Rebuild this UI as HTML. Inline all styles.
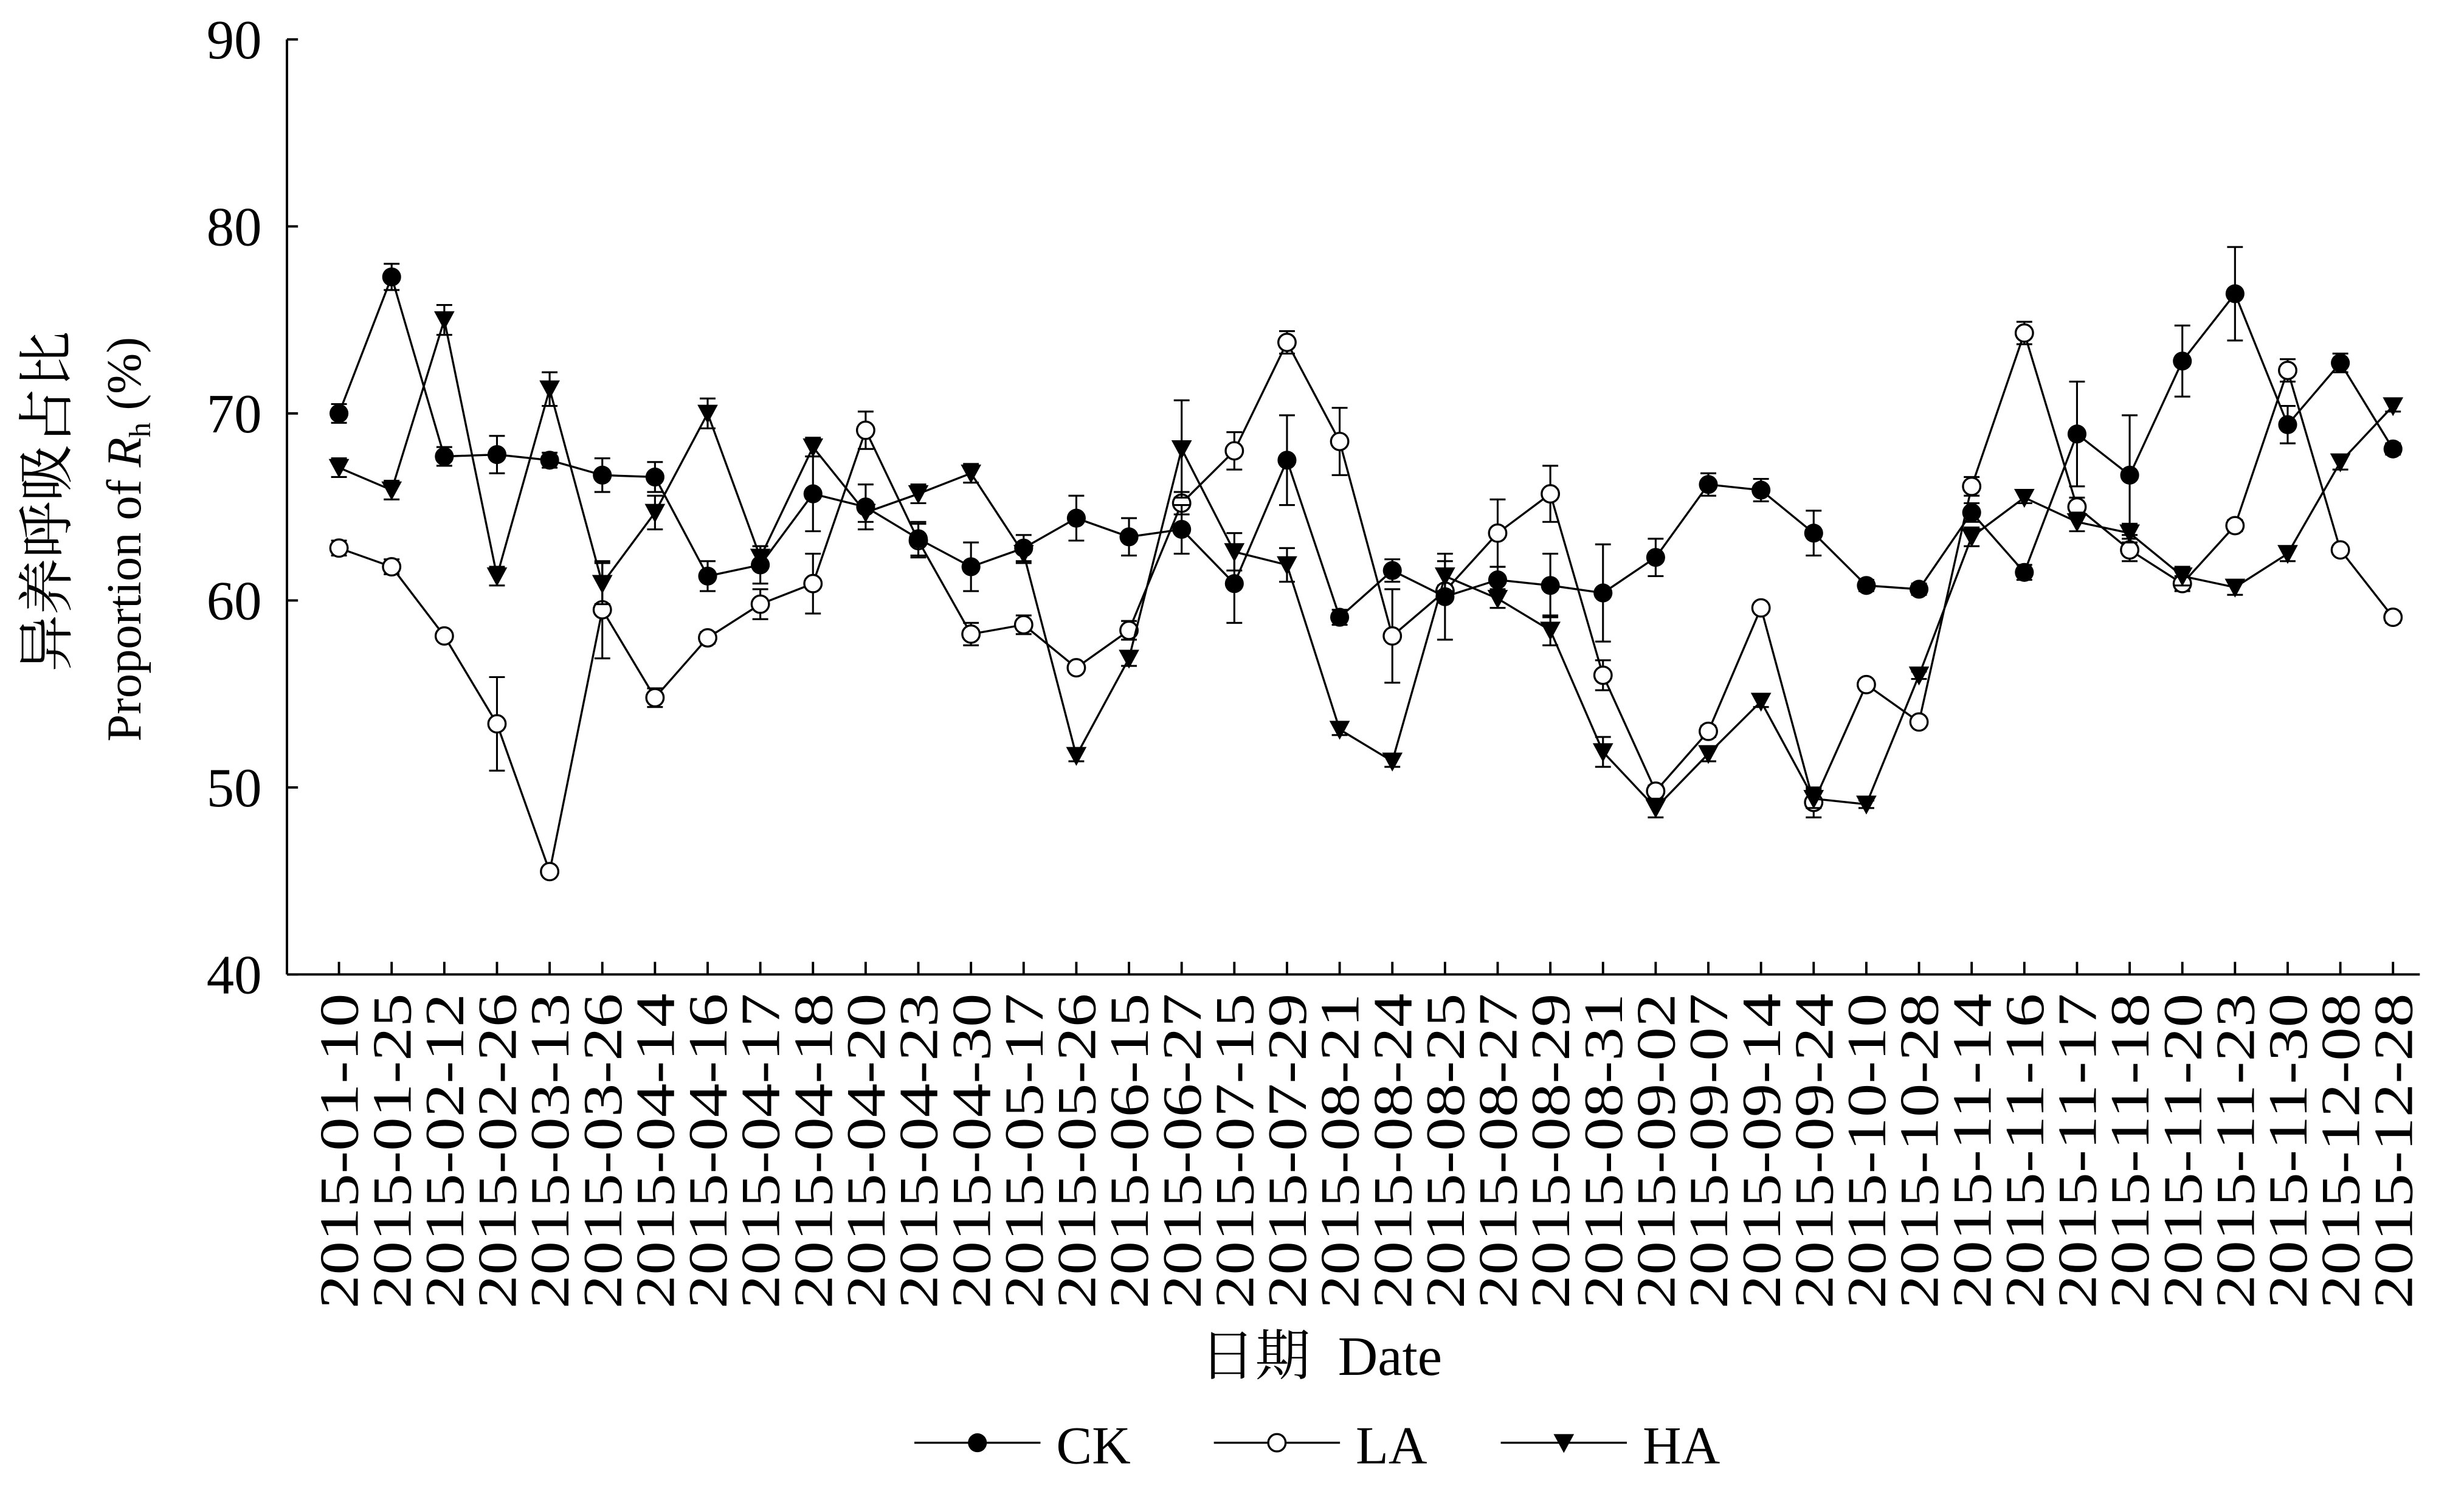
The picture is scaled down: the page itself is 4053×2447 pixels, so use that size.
<!DOCTYPE html>
<html><head><meta charset="utf-8"><style>html,body{margin:0;padding:0;background:#fff}svg{display:block}</style></head>
<body>
<svg id="c" xmlns="http://www.w3.org/2000/svg" width="4053" height="2447" viewBox="0 0 1563 943.7" font-family="'Liberation Serif','Noto Serif CJK SC',serif"></svg>
<script>
const dates=["01-10","01-25","02-12","02-26","03-13","03-26","04-14","04-16","04-17","04-18","04-20","04-23","04-30","05-17","05-26","06-15","06-27","07-15","07-29","08-21","08-24","08-25","08-27","08-29","08-31","09-02","09-07","09-14","09-24","10-10","10-28","11-14","11-16","11-17","11-18","11-20","11-23","11-30","12-08","12-28"];
const CK=[70,77.3,67.7,67.8,67.5,66.7,66.6,61.3,61.9,65.7,65.0,63.3,61.8,62.8,64.4,63.4,63.8,60.9,67.5,59.1,61.6,60.2,61.1,60.8,60.4,62.3,66.2,65.9,63.6,60.8,60.6,64.7,61.5,68.9,66.7,72.8,76.4,69.4,72.7,68.1];
const CKe=[0.5,0.7,0.5,1,0.4,0.9,0.8,0.8,1,2,1.2,0.9,1.3,0.7,1.2,1,1.3,2.1,2.4,0.4,0.6,2.3,0.7,1.7,2.6,1,0.6,0.6,1.2,0.3,0.3,0.5,0.4,2.8,3.2,1.9,2.5,1,0.5,0.3];
const LA=[62.8,61.8,58.1,53.4,45.5,59.5,54.8,58.0,59.8,60.9,69.1,63.2,58.2,58.7,56.4,58.4,65.2,68.0,73.8,68.5,58.1,60.5,63.6,65.7,56.0,49.8,53.0,59.6,49.2,55.5,53.5,66.1,74.3,65.0,62.7,60.9,64.0,72.3,62.7,59.1];
const LAe=[0.4,0.4,0.2,2.5,0.2,2.6,0.5,0.3,0.8,1.6,1,0.9,0.6,0.5,0.2,0.5,0.6,1,0.6,1.8,2.5,0.3,1.8,1.5,0.8,0.3,0.3,0.2,0.8,0.2,0.2,0.5,0.6,0.5,0.6,0.4,0.3,0.6,0.2,0.3];
const HA=[67.1,65.9,75.0,61.3,71.3,60.9,64.7,70.0,62.3,68.2,64.7,65.7,66.8,62.5,51.7,56.9,68.1,62.6,61.9,53.1,51.4,61.3,60.1,58.4,51.9,48.9,51.8,54.6,49.4,49.1,56.0,63.4,65.5,64.2,63.6,61.3,60.7,62.5,67.4,70.4];
const HAe=[0.5,0.5,0.8,0.5,0.9,1.1,0.9,0.8,0.6,0.5,0.5,0.5,0.5,0.5,0.3,0.4,2.6,1,0.9,0.3,0.3,0.8,0.5,0.8,0.8,0.5,0.4,0.3,0.5,0.2,0.2,0.5,0.3,0.5,0.5,0.5,0.4,0.4,0.4,0.3];
const X=i=>215+i*(1518-215)/39, Y=v=>618-(v-40)*11.86;
let s='';
s+=`<line x1="182" y1="25" x2="182" y2="618" stroke="#000" stroke-width="1.5"/><line x1="182" y1="618" x2="1535" y2="618" stroke="#000" stroke-width="1.5"/>`;
for(let v=40;v<=90;v+=10){s+=`<line x1="182" y1="${Y(v)}" x2="189" y2="${Y(v)}" stroke="#000" stroke-width="1.5"/><text x="166" y="${Y(v)+12}" font-size="35" text-anchor="end">${v}</text>`;}
dates.forEach((d,i)=>{const x=X(i);s+=`<line x1="${x}" y1="610" x2="${x}" y2="618" stroke="#000" stroke-width="1.5"/><text transform="translate(${x+12},630) rotate(-90)" font-size="35" text-anchor="end" textLength="200" lengthAdjust="spacingAndGlyphs">2015-${d}</text>`;});
function ser(a,e,m){let p=a.map((v,i)=>`${X(i)},${Y(v)}`).join(' ');let t=`<polyline points="${p}" fill="none" stroke="#000" stroke-width="1.3"/>`;
a.forEach((v,i)=>{const x=X(i),y1=Y(v+e[i]),y2=Y(v-e[i]);t+=`<line x1="${x}" y1="${y1}" x2="${x}" y2="${y2}" stroke="#000" stroke-width="1.2"/><line x1="${x-5}" y1="${y1}" x2="${x+5}" y2="${y1}" stroke="#000" stroke-width="1.2"/><line x1="${x-5}" y1="${y2}" x2="${x+5}" y2="${y2}" stroke="#000" stroke-width="1.2"/>`;t+=mk(m,x,Y(v));});return t;}
function mk(m,x,y){if(m==0)return `<circle cx="${x}" cy="${y}" r="6" fill="#000"/>`;if(m==1)return `<circle cx="${x}" cy="${y}" r="5.5" fill="#fff" stroke="#000" stroke-width="1.3"/>`;return `<polygon points="${x-6.5},${y-5.5} ${x+6.5},${y-5.5} ${x},${y+6.5}" fill="#000"/>`;}
s+=ser(LA,LAe,1)+ser(CK,CKe,0)+ser(HA,HAe,2);
s+=`<text transform="translate(42,318) rotate(-90)" font-size="36" text-anchor="middle" font-family="'Noto Serif CJK SC','Noto Sans CJK SC',serif">异养呼吸占比</text>`;
s+=`<text transform="translate(89,342) rotate(-90)" font-size="31" text-anchor="middle">Proportion of <tspan font-style="italic">R</tspan><tspan font-size="19" dy="6">h</tspan><tspan dy="-6"> (%)</tspan></text>`;
s+=`<text x="838" y="872" font-size="35" text-anchor="middle"><tspan font-family="'Noto Serif CJK SC','Noto Sans CJK SC',serif">日期</tspan>&#160;&#160;Date</text>`;
const L=[[580,'CK',0],[770,'LA',1],[952,'HA',2]];
L.forEach(([x,t,m])=>{s+=`<line x1="${x}" y1="915" x2="${x+80}" y2="915" stroke="#000" stroke-width="1.3"/>`+mk(m,x+40,915)+`<text x="${x+90}" y="928" font-size="34">${t}</text>`;});
document.getElementById('c').innerHTML=s;
</script>
</body></html>
